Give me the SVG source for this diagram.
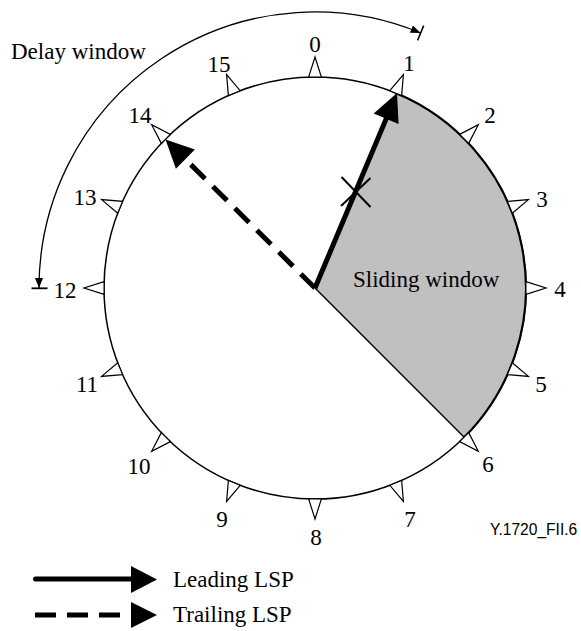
<svg xmlns="http://www.w3.org/2000/svg" xmlns:xlink="http://www.w3.org/1999/xlink" width="581" height="631" viewBox="0 0 581 631">
<style>
  .lbl { font-family: "Liberation Serif", "Times New Roman", serif; font-size: 23px; fill: #000; }
  .num { font-family: "Liberation Serif", "Times New Roman", serif; font-size: 23px; fill: #000; text-anchor: middle; }
  .code { font-family: "Liberation Sans", Arial, sans-serif; font-size: 15.6px; fill: #000; }
  .tick { fill: #fff; stroke: #000; stroke-width: 1.2; stroke-linejoin: miter; }
  .head { fill: #000; stroke: none; }
</style>
<defs>
  <polygon id="tick" class="tick" points="308.6,77.1 315,57 321.4,77.1"/>
  <marker id="sah" viewBox="0 0 10 8" refX="10" refY="4" markerWidth="10" markerHeight="8" markerUnits="userSpaceOnUse" orient="auto-start-reverse">
    <path d="M0,0 L10,4 L0,8 z" fill="#000"/>
  </marker>
</defs>

<g id="dial">
  <circle cx="315" cy="288" r="211" fill="#fff" stroke="#000" stroke-width="1.5"/>
</g>

<g id="sliding-window">
  <path d="M315,288 L395.7,93.1 A211,211 0 0 1 464.2,437.2 Z" fill="#c0c0c0" stroke="none"/>
  <path d="M395.7,93.1 A211,211 0 0 1 464.2,437.2" fill="none" stroke="#000" stroke-width="2.2"/>
  <line x1="315" y1="288" x2="464.2" y2="437.2" stroke="#000" stroke-width="1.4"/>
  <text class="lbl" x="353" y="287">Sliding window</text>
</g>

<g id="ticks">
  <use xlink:href="#tick" transform="rotate(0 315 288)"/>
  <use xlink:href="#tick" transform="rotate(22.5 315 288)"/>
  <use xlink:href="#tick" transform="rotate(45 315 288)"/>
  <use xlink:href="#tick" transform="rotate(67.5 315 288)"/>
  <use xlink:href="#tick" transform="rotate(90 315 288)"/>
  <use xlink:href="#tick" transform="rotate(112.5 315 288)"/>
  <use xlink:href="#tick" transform="rotate(135 315 288)"/>
  <use xlink:href="#tick" transform="rotate(157.5 315 288)"/>
  <use xlink:href="#tick" transform="rotate(180 315 288)"/>
  <use xlink:href="#tick" transform="rotate(202.5 315 288)"/>
  <use xlink:href="#tick" transform="rotate(225 315 288)"/>
  <use xlink:href="#tick" transform="rotate(247.5 315 288)"/>
  <use xlink:href="#tick" transform="rotate(270 315 288)"/>
  <use xlink:href="#tick" transform="rotate(292.5 315 288)"/>
  <use xlink:href="#tick" transform="rotate(315 315 288)"/>
  <use xlink:href="#tick" transform="rotate(337.5 315 288)"/>
</g>

<g id="tick-labels">
  <text class="num" x="315" y="52">0</text>
  <text class="num" x="409" y="71">1</text>
  <text class="num" x="490" y="123">2</text>
  <text class="num" x="542" y="207">3</text>
  <text class="num" x="560" y="297">4</text>
  <text class="num" x="541" y="392">5</text>
  <text class="num" x="488" y="472">6</text>
  <text class="num" x="410" y="527">7</text>
  <text class="num" x="316" y="545">8</text>
  <text class="num" x="222" y="527">9</text>
  <text class="num" x="139" y="474">10</text>
  <text class="num" x="87" y="392">11</text>
  <text class="num" x="65" y="298">12</text>
  <text class="num" x="85" y="205">13</text>
  <text class="num" x="140" y="123">14</text>
  <text class="num" x="219" y="72">15</text>
</g>

<g id="connectors">
  <!-- Leading LSP -->
  <line x1="315" y1="288" x2="387.3" y2="116.1" stroke="#000" stroke-width="5"/>
  <polygon class="head" points="397,93 398.6,124 373.7,113.6"/>
  <!-- X mark -->
  <line x1="341.5" y1="177" x2="370.5" y2="207" stroke="#000" stroke-width="2"/>
  <line x1="370.5" y1="178" x2="341" y2="206" stroke="#000" stroke-width="2"/>
  <!-- Trailing LSP -->
  <line x1="315" y1="288" x2="184" y2="157.8" stroke="#000" stroke-width="5" stroke-dasharray="20 11"/>
  <polygon class="head" points="165.5,139.5 194.9,149.6 175.9,168.8"/>
  <!-- Delay window arc -->
  <path d="M420.6,33 A276,276 0 0 0 39,288" fill="none" stroke="#000" stroke-width="1.3" marker-start="url(#sah)" marker-end="url(#sah)"/>
  <line x1="31.5" y1="288.3" x2="47.5" y2="288.3" stroke="#000" stroke-width="1.8"/>
  <line x1="417.6" y1="40.4" x2="423.7" y2="25.6" stroke="#000" stroke-width="1.5"/>
</g>

<g id="delay-label">
  <text class="lbl" x="11" y="59">Delay window</text>
</g>

<g id="figure-code">
  <text class="code" x="490" y="535">Y.1720_FII.6</text>
</g>

<g id="legend">
  <line x1="35.5" y1="579" x2="133" y2="579" stroke="#000" stroke-width="5" stroke-linecap="round"/>
  <polygon class="head" points="131,566 157,579.5 131,593"/>
  <text class="lbl" x="173" y="587">Leading LSP</text>
  <line x1="35" y1="615" x2="132" y2="615" stroke="#000" stroke-width="5" stroke-dasharray="21 11"/>
  <polygon class="head" points="131,602 157,615 131,628"/>
  <text class="lbl" x="173" y="622">Trailing LSP</text>
</g>
</svg>
